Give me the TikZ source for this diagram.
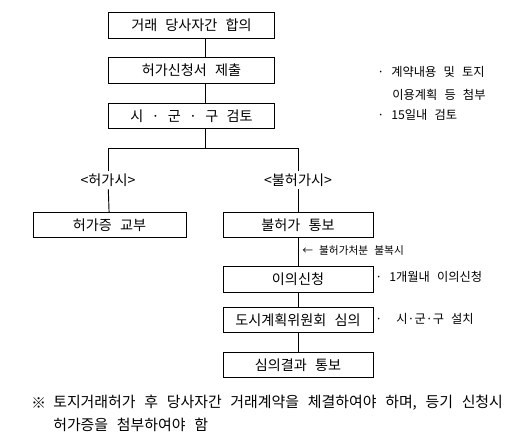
\documentclass[tikz,border=0pt]{standalone}
\usepackage{fontspec}
\setmainfont[WordSpace=2.6]{Noto Sans CJK KR}
\usetikzlibrary{positioning}
\begin{document}
\begin{tikzpicture}[x=0.75pt,y=-0.75pt]
	\tikzset{blk/.style={draw, line width=0.7pt, minimum height=19pt, inner sep=1pt, font=\fontsize{10.6}{12}\selectfont},
		memo/.style={anchor=west, inner sep=0pt, font=\fontsize{9.2}{11}\selectfont},
		cond/.style={inner sep=2pt, font=\fontsize{10.6}{12}\selectfont},
		ln/.style={line width=0.7pt}}
	\useasboundingbox (0,0) rectangle (532,442);
	% main column
	\node[blk, minimum width=125pt] (agree)  at (191.5,25.5) {거래 당사자간 합의};
	\node[blk, minimum width=125pt] (apply)  at (191.5,70.5) {허가신청서 제출};
	\node[blk, minimum width=125pt] (review) at (191.5,116)  {시 · 군 · 구 검토};
	\coordinate (tr) at (205,0);
	\draw[ln] (agree.south -| tr) -- (apply.north -| tr);
	\draw[ln] (apply.south -| tr) -- (review.north -| tr);
	% split
	\coordinate (sp) at (205,148);
	\coordinate (spl) at (108,148);
	\coordinate (spr) at (298,148);
	\node[cond] (yes) at (108,180) {<허가시>};
	\node[cond] (no)  at (298,180) {<불허가시>};
	\draw[ln] (review.south -| tr) -- (sp);
	\draw[ln] (spl) -- (spr);
	\draw[ln] (spl) -- (yes);
	\draw[ln] (spr) -- (no);
	% branches
	\node[blk, minimum width=114.75pt] (grant)  at (109.5,225) {허가증 교부};
	\node[blk, minimum width=112.5pt]  (notice) at (298,225)   {불허가 통보};
	\node[blk, minimum width=112.5pt]  (object) at (298,279.5) {이의신청};
	\node[blk, minimum width=112.5pt]  (board)  at (298,320)   {도시계획위원회 심의};
	\node[blk, minimum width=112.5pt]  (result) at (298,365)   {심의결과 통보};
	\draw[ln] (yes) -- (grant);
	\draw[ln] (no) -- (notice);
	\draw[ln] (notice) -- (object);
	\draw[ln] (object) -- (board);
	\draw[ln] (board) -- (result);
	% side notes
	\node[memo, font=\fontsize{8}{9}\selectfont] (appeal) at (302,251) {← 불허가처분 불복시};
	\node[memo] (n1a) at (377,72)  {· 계약내용 및 토지};
	\node[memo] (n1b) at (392,95)  {이용계획 등 첨부};
	\node[memo] (n2)  at (377,115) {· 15일내 검토};
	\node[memo] (n3)  at (375,277) {· 1개월내 이의신청};
	\node[memo] (n4)  at (375,319) {· \ 시·군·구 설치};
	% footnote
	\node[memo, font=\fontsize{11}{12}\selectfont] (mark) at (31,403) {※};
	\node[memo, font=\fontsize{11.2}{12}\selectfont] (foot1) at (53,403) {토지거래허가 후 당사자간 거래계약을 체결하여야 하며, 등기 신청시};
	\node[memo, font=\fontsize{11.2}{12}\selectfont] (foot2) at (53,425) {허가증을 첨부하여야 함};
\end{tikzpicture}
\end{document}
